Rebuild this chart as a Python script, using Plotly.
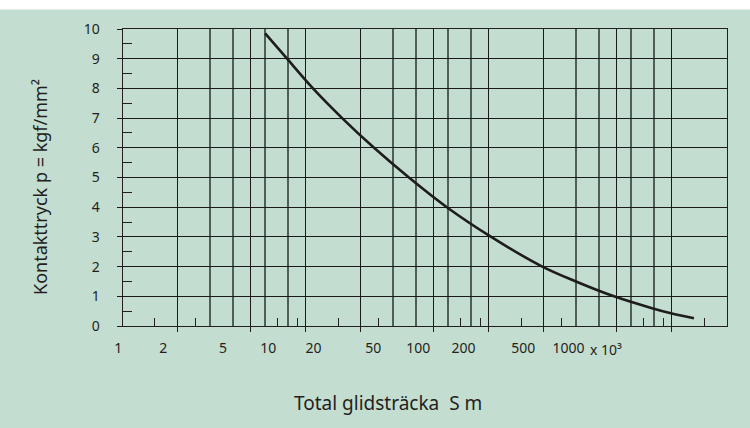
import math
import plotly.graph_objects as go

# Wear curve: total sliding distance S (m, x10^3) vs contact pressure p (kgf/mm^2)
sliding_distance = [6, 7.9, 10.95, 15.8, 23.6, 36.6, 59, 103, 196, 299, 483, 779, 1000, 1320]
contact_pressure = [9.85, 9, 8, 7, 6, 5, 4, 3, 2, 1.5, 1, 0.6, 0.42, 0.26]

# Logarithmic grid
major_grid = [2, 5, 10, 20, 50, 100, 200, 500, 1000]
minor_grid = [3, 4, 6, 8, 30, 40, 60, 80, 300, 400, 600, 800]
inner_ticks = [1.5, 2.5, 7, 9, 15, 25, 70, 90, 150, 250, 700, 900, 1500]

# Printed scale labels
scale_values = [1, 2, 5, 10, 20, 50, 100, 200, 500, 1000]
scale_text = ["1", "2", "5", "10", "20", "50", "100", "200", "500", "1000"]

p_ticks = list(range(0, 11))
p_half = [i + 0.5 for i in range(10)]

BG = "#c3ddd1"
INK = "#231f20"
FONT = "Noto Sans"

fig = go.Figure()

fig.add_trace(go.Scatter(
    x=sliding_distance, y=contact_pressure, mode="lines",
    line=dict(color="#1e1c1c", width=2.6, shape="spline", smoothing=1.0),
    xaxis="x", yaxis="y", showlegend=False, hoverinfo="skip",
))
# placeholder traces so the auxiliary axes are drawn
fig.add_trace(go.Scatter(x=scale_values, y=[None] * len(scale_values), xaxis="x2", yaxis="y",
                         showlegend=False, hoverinfo="skip"))
fig.add_trace(go.Scatter(x=inner_ticks, y=[None] * len(inner_ticks), xaxis="x3", yaxis="y",
                         showlegend=False, hoverinfo="skip"))

ML, MR, MT, MB = 116, 23, 29, 102
W, H = 750, 428
pw = W - ML - MR
ph = H - MT - MB

x_lo = 122.7
x_dom = [(x_lo - ML) / pw, 1]
lab0, lab_dec = 116.67, 150.46
x2_dom = [(lab0 - ML) / pw, (lab0 + 4 * lab_dec - ML) / pw]

fig.update_layout(
    width=W, height=H,
    margin=dict(l=ML, r=MR, t=MT, b=MB),
    paper_bgcolor=BG, plot_bgcolor="rgba(0,0,0,0)",
    font=dict(family=FONT, color=INK, size=14),
    xaxis=dict(
        type="log", range=[0, math.log10(2000)], domain=x_dom, anchor="y",
        tickmode="array", tickvals=major_grid, showticklabels=False,
        ticks="outside", ticklen=5, tickwidth=1.2, tickcolor=INK,
        showgrid=True, gridcolor="#1a1a1a", gridwidth=1.2,
        minor=dict(tickmode="array", tickvals=minor_grid, ticks="",
                   showgrid=True, gridcolor="rgba(40,52,47,0.75)", gridwidth=1.7),
        showline=True, linecolor=INK, linewidth=1.4, mirror=True,
        zeroline=False,
    ),
    xaxis2=dict(
        type="log", range=[-0.01, 4], domain=x2_dom, anchor="y",
        tickmode="array", tickvals=scale_values, ticktext=scale_text,
        ticks="", showgrid=False, showline=False, zeroline=False,
        ticklabelstandoff=12, tickfont=dict(size=14, color=INK),
    ),
    xaxis3=dict(
        type="log", range=[0, math.log10(2000)], domain=x_dom, anchor="y",
        tickmode="array", tickvals=inner_ticks, showticklabels=False,
        ticks="inside", ticklen=8, tickwidth=1.2, tickcolor=INK,
        showgrid=False, showline=False, zeroline=False,
    ),
    yaxis=dict(
        range=[0, 10], anchor="x",
        tickmode="array", tickvals=p_ticks,
        ticks="outside", ticklen=5, tickwidth=1.2, tickcolor=INK,
        ticklabelstandoff=14, tickfont=dict(size=14, color=INK),
        showgrid=True, gridcolor="#1a1a1a", gridwidth=1.2,
        minor=dict(tickmode="array", tickvals=p_half, ticks="inside",
                   ticklen=9, tickwidth=1.2, tickcolor=INK, showgrid=False),
        showline=True, linecolor=INK, linewidth=1.4, mirror=True,
        zeroline=False,
    ),
    shapes=[dict(type="rect", xref="paper", yref="paper",
                 x0=-0.3, x1=1.1, y0=(ph + MT - 9.5) / ph, y1=1.3,
                 fillcolor="white", line=dict(width=0), layer="above")],
    annotations=[
        dict(text="x 10³", xref="x2", yref="paper", x=3, y=-23 / ph,
             xanchor="left", yanchor="middle", xshift=20, showarrow=False,
             font=dict(size=14, color=INK)),
        dict(text="Total glidsträcka  S m", xref="paper", yref="paper",
             x=(388 - ML) / pw, y=(MT + ph - 403) / ph,
             xanchor="center", yanchor="middle", showarrow=False,
             font=dict(size=19, color=INK)),
        dict(text="Kontakttryck p = kgf/mm²", xref="paper", yref="paper",
             x=(40 - ML) / pw, y=(MT + ph - 187) / ph, textangle=-90,
             xanchor="center", yanchor="middle", showarrow=False,
             font=dict(size=18, color=INK)),
    ],
)

fig.write_html("out.html")
